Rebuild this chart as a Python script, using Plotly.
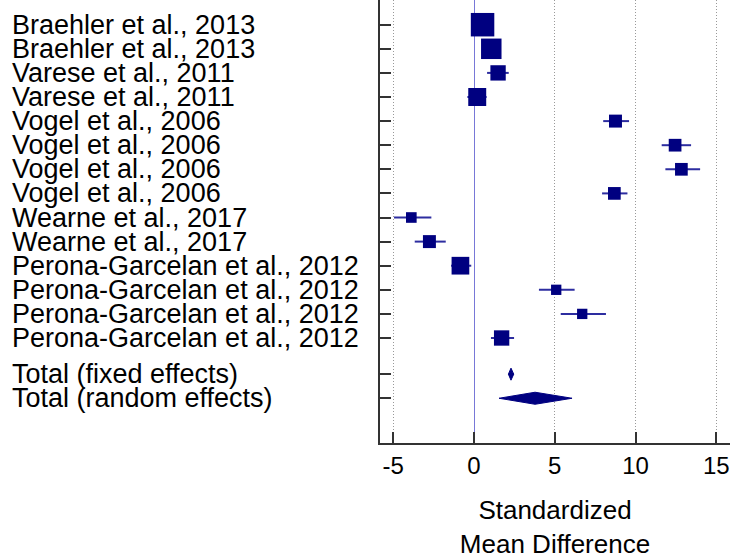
import plotly.graph_objects as go
import numpy as np

studies = [
    "Braehler et al., 2013", "Braehler et al., 2013",
    "Varese et al., 2011", "Varese et al., 2011",
    "Vogel et al., 2006", "Vogel et al., 2006", "Vogel et al., 2006", "Vogel et al., 2006",
    "Wearne et al., 2017", "Wearne et al., 2017",
    "Perona-Garcelan et al., 2012", "Perona-Garcelan et al., 2012",
    "Perona-Garcelan et al., 2012", "Perona-Garcelan et al., 2012",
]
smd = [0.53, 1.07, 1.49, 0.20, 8.76, 12.45, 12.84, 8.69, -3.88, -2.76, -0.84, 5.09, 6.70, 1.71]
ci_low = [0.10, 0.70, 0.81, -0.41, 8.00, 11.62, 11.85, 7.93, -4.95, -3.67, -1.42, 4.02, 5.37, 1.05]
ci_high = [0.95, 1.45, 2.15, 0.78, 9.60, 13.44, 14.00, 9.50, -2.64, -1.75, -0.17, 6.23, 8.17, 2.48]
weight = [17.1, 13.0, 7.3, 10.0, 5.2, 5.0, 5.0, 5.0, 3.5, 5.2, 9.7, 3.3, 3.3, 7.3]

total_labels = ["Total (fixed effects)", "Total (random effects)"]
total_est = [2.29, 3.78]
total_low = [2.13, 1.55]
total_high = [2.46, 6.07]

x_ticks = [-5, 0, 5, 10, 15]
x_ticktext = ["-5", "0", "5", "10", "15"]

NAVY = "#000080"
CI_COL = "rgb(45,45,160)"
FONT = "Arial, Liberation Sans, sans-serif"

n = len(studies)
rows = list(range(n))
total_rows = [n + 0.5, n + 1.5]

fig = go.Figure()

# CI lines
cx, cy = [], []
for lo, hi, r in zip(ci_low, ci_high, rows):
    cx += [lo, hi, None]
    cy += [r, r, None]
fig.add_trace(go.Scatter(x=cx, y=cy, mode="lines", line=dict(color=CI_COL, width=2),
                         hoverinfo="skip", showlegend=False))

# squares
sizes = [5.68 * np.sqrt(w) for w in weight]
fig.add_trace(go.Scatter(x=smd, y=rows, mode="markers",
                         marker=dict(symbol="square", size=sizes, color=NAVY, opacity=1,
                                     line=dict(width=0)),
                         showlegend=False))

# diamonds
h = 0.25
for est, lo, hi, r in zip(total_est, total_low, total_high, total_rows):
    fig.add_trace(go.Scatter(x=[lo, est, hi, est, lo], y=[r, r - h, r, r + h, r],
                             mode="lines", fill="toself", fillcolor=NAVY,
                             line=dict(color=NAVY, width=1), showlegend=False, hoverinfo="skip"))

# labels
for lab, r in zip(studies + total_labels, rows + total_rows):
    fig.add_annotation(text=lab, xref="paper", x=0, xshift=-370, xanchor="left",
                       yref="y", y=r, yanchor="middle", showarrow=False,
                       font=dict(family=FONT, size=27, color="black"))

top_px, row0_px, row_step = 0, 24.7, 24.1
bottom_px = 443
fig.update_layout(
    width=730, height=559,
    margin=dict(l=380, r=0, t=0, b=559 - bottom_px),
    plot_bgcolor="white", paper_bgcolor="white",
    font=dict(family=FONT, color="black"),
    xaxis=dict(range=[-5.82, 15.85], tickvals=x_ticks, ticktext=x_ticktext,
               ticks="inside", ticklen=11,
               tickwidth=2, tickcolor="#333", showline=True, linewidth=2, linecolor="#333",
               showgrid=True, griddash="1px,2px", gridcolor="#999", gridwidth=1,
               zeroline=True, zerolinecolor="rgb(120,120,215)", zerolinewidth=1,
               tickfont=dict(size=24, family=FONT, color="black"),
               title=dict(text="Standardized<br>Mean Difference",
                          font=dict(size=26, family=FONT, color="black"), standoff=24)),
    yaxis=dict(range=[(bottom_px - row0_px) / row_step, (top_px - row0_px) / row_step],
               tickvals=rows + total_rows, ticks="inside", ticklen=11, tickwidth=2,
               tickcolor="#333", showline=True, linewidth=2, linecolor="#333",
               showticklabels=False, showgrid=False, zeroline=False),
)

fig.write_html("out.html")
